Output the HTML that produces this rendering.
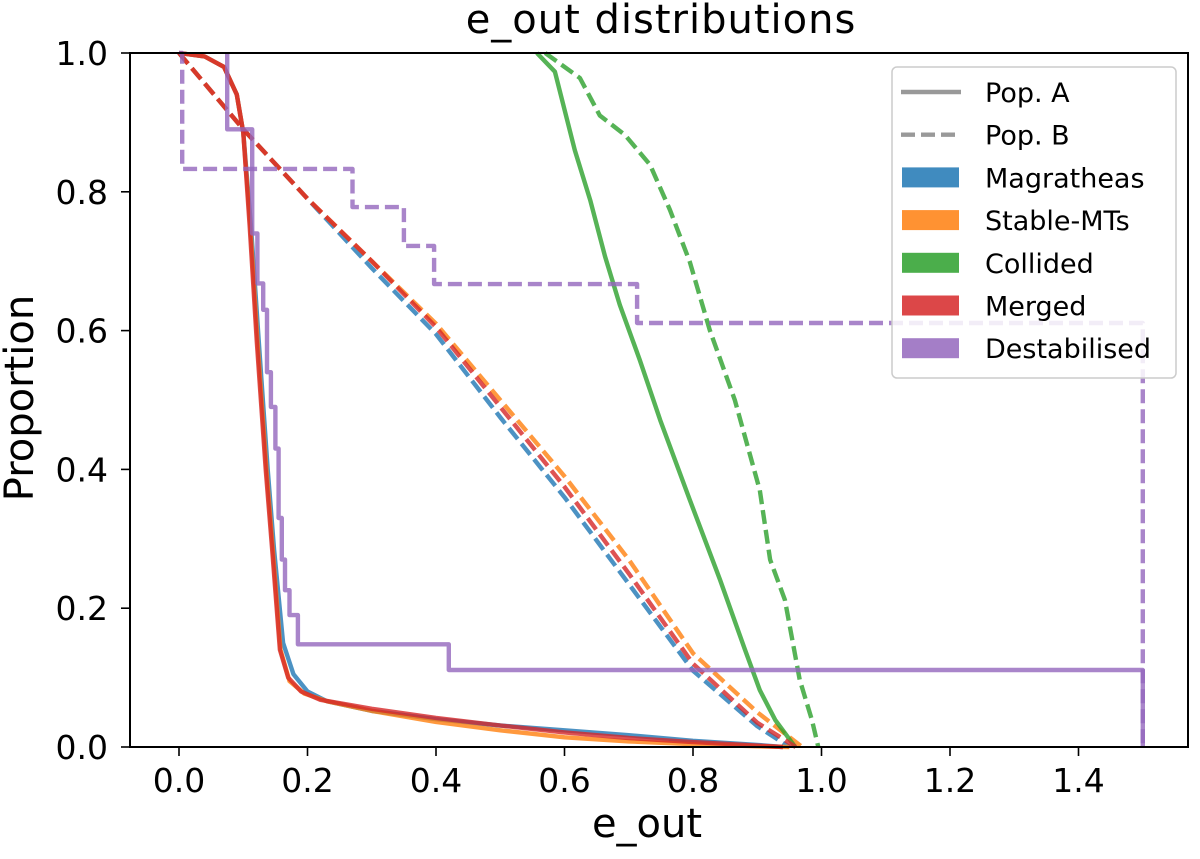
<!DOCTYPE html>
<html><head><meta charset="utf-8"><style>
body{margin:0;background:#fff;}
svg text{font-family:"DejaVu Sans","Liberation Sans",sans-serif;fill:#000;}
</style></head><body>
<svg id="chart" width="1200" height="854" viewBox="0 0 1200 854" xmlns="http://www.w3.org/2000/svg">
<text x="661" y="33" font-size="40" letter-spacing="1" text-anchor="middle">e_out distributions</text>
<g id="marks"></g>
<rect x="130" y="53" width="1058" height="694" fill="none" stroke="#000" stroke-width="2"/>
<g id="ticks"></g>
<text x="647" y="837" font-size="40" text-anchor="middle">e_out</text>
<text transform="translate(33,398) rotate(-90)" font-size="40" text-anchor="middle">Proportion</text>
<g>
<rect x="892" y="67" width="284" height="311" rx="5" fill="#fff" fill-opacity="0.85" stroke="#ccc" stroke-width="1.5"/>
<g id="legend-items"></g>
</g>
</svg>
<script>
const xTicks=[0.0,0.2,0.4,0.6,0.8,1.0,1.2,1.4];
const yTicks=[0.0,0.2,0.4,0.6,0.8,1.0];
// Pop A (solid)
const magA_e=[0,0.04,0.07,0.09,0.10,0.112,0.124,0.138,0.148,0.162,0.178,0.2,0.23,0.3,0.4,0.5,0.6,0.7,0.8,0.9,0.94];
const magA_p=[1,0.995,0.98,0.94,0.885,0.75,0.586,0.40,0.284,0.15,0.105,0.08,0.066,0.052,0.040,0.031,0.024,0.017,0.009,0.003,0];
const stabA_e=[0,0.04,0.07,0.09,0.10,0.111,0.122,0.136,0.146,0.158,0.172,0.195,0.23,0.3,0.4,0.5,0.6,0.7,0.8,0.9,0.95];
const stabA_p=[1,0.995,0.98,0.94,0.885,0.75,0.586,0.40,0.284,0.14,0.095,0.077,0.066,0.052,0.036,0.024,0.014,0.008,0.004,0.001,0];
const colA_e=[0.557,0.585,0.616,0.640,0.663,0.686,0.717,0.749,0.795,0.842,0.881,0.904,0.928,0.959];
const colA_p=[1,0.973,0.86,0.788,0.707,0.637,0.558,0.471,0.356,0.241,0.140,0.082,0.039,0];
const merA_e=[0,0.04,0.07,0.09,0.10,0.11,0.121,0.135,0.145,0.157,0.17,0.19,0.22,0.3,0.4,0.5,0.6,0.7,0.8,0.9,0.94];
const merA_p=[1,0.995,0.98,0.94,0.885,0.75,0.586,0.40,0.284,0.14,0.10,0.08,0.068,0.055,0.042,0.031,0.021,0.013,0.007,0.002,0];
// Pop B (dashed)
const magB_e=[0,0.1,0.2,0.3,0.4,0.5,0.6,0.7,0.8,0.9,0.95];
const magB_p=[1,0.89,0.79,0.69,0.595,0.475,0.36,0.235,0.11,0.03,0];
const stabB_e=[0,0.1,0.2,0.3,0.4,0.5,0.6,0.7,0.8,0.9,0.97];
const stabB_p=[1,0.89,0.79,0.70,0.61,0.50,0.39,0.27,0.135,0.05,0];
const colB_e=[0.570,0.624,0.655,0.694,0.733,0.764,0.795,0.826,0.865,0.904,0.920,0.943,0.966,0.985,0.995];
const colB_p=[1,0.964,0.91,0.882,0.839,0.774,0.699,0.601,0.5,0.37,0.27,0.212,0.097,0.039,0];
const merB_e=[0,0.1,0.2,0.3,0.4,0.5,0.6,0.7,0.8,0.9,0.96];
const merB_p=[1,0.89,0.79,0.70,0.605,0.49,0.375,0.25,0.12,0.035,0];
// Destabilised step functions: at each e, drop to level
const desA_e=[0.075,0.114,0.122,0.131,0.137,0.143,0.150,0.155,0.160,0.165,0.172,0.185,0.42,1.5];
const desA_p=[0.89,0.74,0.668,0.63,0.54,0.49,0.43,0.33,0.27,0.226,0.19,0.148,0.111,0];
const desB_e=[0.005,0.27,0.35,0.397,0.713,1.5];
const desB_p=[0.833,0.778,0.722,0.667,0.611,0];

const X=e=>179+e*642.5, Y=p=>747-p*694;
const NS="http://www.w3.org/2000/svg";
const marks=document.getElementById('marks');
const C={blue:'#1f77b4',orange:'#ff7f0e',green:'#2ca02c',red:'#d62728',purple:'#9467bd'};
function line(es,ps,col,dashed,name){
  const p=document.createElementNS(NS,'path');
  p.setAttribute('d',es.map((e,i)=>(i?'L':'M')+X(e).toFixed(1)+','+Y(ps[i]).toFixed(1)).join(''));
  p.setAttribute('fill','none');p.setAttribute('stroke',col);p.setAttribute('stroke-width','4.4');
  p.setAttribute('stroke-opacity','0.8');p.setAttribute('stroke-linejoin','round');
  if(dashed)p.setAttribute('stroke-dasharray','14,6');
  
  
  marks.appendChild(p);
}
function step(es,ps,col,dashed,name){
  let xs=[es[0]],ys=[1];
  es.forEach((e,i)=>{xs.push(e);ys.push(i?ps[i-1]:1);xs.push(e);ys.push(ps[i]);});
  line(xs,ys,col,dashed,name);
}
line(magA_e,magA_p,C.blue,false,'magratheas-pop-a');
line(magB_e,magB_p,C.blue,true,'magratheas-pop-b');
line(stabA_e,stabA_p,C.orange,false,'stable-mts-pop-a');
line(stabB_e,stabB_p,C.orange,true,'stable-mts-pop-b');
line(colA_e,colA_p,C.green,false,'collided-pop-a');
line(colB_e,colB_p,C.green,true,'collided-pop-b');
line(merA_e,merA_p,C.red,false,'merged-pop-a');
line(merB_e,merB_p,C.red,true,'merged-pop-b');
step(desA_e,desA_p,C.purple,false,'destabilised-pop-a');
step([0].concat(desB_e),[1].concat(desB_p),C.purple,true,'destabilised-pop-b');

const tg=document.getElementById('ticks');
xTicks.forEach(t=>{
  const l=document.createElementNS(NS,'line');
  l.setAttribute('x1',X(t));l.setAttribute('x2',X(t));l.setAttribute('y1',747);l.setAttribute('y2',756);
  l.setAttribute('stroke','#000');l.setAttribute('stroke-width','1.6');
  
  
  tg.appendChild(l);
  const tx=document.createElementNS(NS,'text');
  tx.setAttribute('x',X(t));tx.setAttribute('y',792);tx.setAttribute('font-size','33');tx.setAttribute('text-anchor','middle');
  tx.textContent=t.toFixed(1);
  
  
  tg.appendChild(tx);
});
yTicks.forEach(t=>{
  const l=document.createElementNS(NS,'line');
  l.setAttribute('x1',121);l.setAttribute('x2',130);l.setAttribute('y1',Y(t));l.setAttribute('y2',Y(t));
  l.setAttribute('stroke','#000');l.setAttribute('stroke-width','1.6');
  
  
  tg.appendChild(l);
  const tx=document.createElementNS(NS,'text');
  tx.setAttribute('x',108);tx.setAttribute('y',Y(t)+12);tx.setAttribute('font-size','33');tx.setAttribute('text-anchor','end');
  tx.textContent=t.toFixed(1);
  
  
  tg.appendChild(tx);
});

const legendLabels=['Pop. A','Pop. B','Magratheas','Stable-MTs','Collided','Merged','Destabilised'];
const legendColors=['#999','#999',C.blue,C.orange,C.green,C.red,C.purple];
const lg=document.getElementById('legend-items');
legendLabels.forEach((lab,i)=>{
  const cy=92+i*42.7;
  let h;
  if(i<2){
    h=document.createElementNS(NS,'line');
    h.setAttribute('x1',901);h.setAttribute('x2',961);h.setAttribute('y1',cy);h.setAttribute('y2',cy);
    h.setAttribute('stroke',legendColors[i]);h.setAttribute('stroke-width','4.4');
    if(i==1)h.setAttribute('stroke-dasharray','14,6');
  } else {
    h=document.createElementNS(NS,'rect');
    h.setAttribute('x',902);h.setAttribute('y',cy-10);h.setAttribute('width',57);h.setAttribute('height',20);
    h.setAttribute('fill',legendColors[i]);h.setAttribute('fill-opacity','0.85');
  }
  
  
  lg.appendChild(h);
  const tx=document.createElementNS(NS,'text');
  tx.setAttribute('x',985);tx.setAttribute('y',cy+10);tx.setAttribute('font-size','27');
  tx.textContent=lab;
  
  
  lg.appendChild(tx);
});
</script>
</body></html>
